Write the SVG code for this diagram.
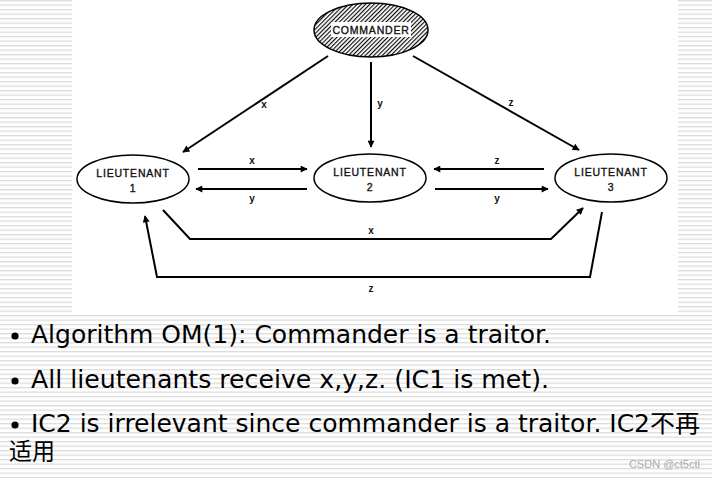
<svg xmlns="http://www.w3.org/2000/svg" width="712" height="478" viewBox="0 0 712 478">
<defs>
<pattern id="stripes" width="10" height="4.5" patternUnits="userSpaceOnUse">
<rect width="10" height="4.5" fill="#ffffff"/>
<rect y="0" width="10" height="1.3" fill="#dcdcdc"/>
</pattern>
<pattern id="hatch" width="3" height="3" patternUnits="userSpaceOnUse" patternTransform="rotate(45)">
<rect width="3" height="3" fill="#ffffff"/>
<line x1="0.6" y1="0" x2="0.6" y2="3" stroke="#000" stroke-width="1.1"/>
</pattern>
<marker id="ah" viewBox="0 0 10 10" refX="9" refY="5" markerWidth="10" markerHeight="7" markerUnits="userSpaceOnUse" orient="auto">
<path d="M0,0 L10,5 L0,10 z" fill="#000"/>
</marker>
<style>
.node{fill:#fff;stroke:#000;stroke-width:1.5}
.nt{font-family:"Liberation Sans",Arial,sans-serif;font-size:10.5px;text-anchor:middle;fill:#111;stroke:#111;stroke-width:0.35px;letter-spacing:0.8px}
.lbl{font-family:"Liberation Sans",Arial,sans-serif;font-size:10px;text-anchor:middle;fill:#111;font-weight:bold}
.c{fill:none;stroke:#000;stroke-width:2;marker-end:url(#ah)}
.body{font-family:"DejaVu Sans",Verdana,"Noto Sans CJK SC",sans-serif;font-size:24px;fill:#000}
</style>
</defs>
<rect width="712" height="478" fill="url(#stripes)"/>
<rect x="72" y="0" width="606" height="314" fill="#ffffff"/>

<g id="connectors">
<line class="c" x1="328" y1="56" x2="183" y2="152"/>
<text class="lbl" x="264" y="108">x</text>
<line class="c" x1="371" y1="62" x2="371" y2="147"/>
<text class="lbl" x="380" y="107">y</text>
<line class="c" x1="413" y1="56" x2="579" y2="150"/>
<text class="lbl" x="511" y="106">z</text>

<line class="c" x1="198" y1="169" x2="307" y2="169"/>
<text class="lbl" x="252" y="164">x</text>
<line class="c" x1="307" y1="189" x2="196" y2="189"/>
<text class="lbl" x="252" y="202">y</text>
<line class="c" x1="544" y1="169" x2="434" y2="169"/>
<text class="lbl" x="497" y="164">z</text>
<line class="c" x1="435" y1="189" x2="548" y2="189"/>
<text class="lbl" x="497" y="202">y</text>

<polyline class="c" points="163,210 190,239 551,239 583,208"/>
<text class="lbl" x="371" y="234">x</text>
<polyline class="c" points="602,212 590,277 157,277 145,216"/>
<text class="lbl" x="371" y="292">z</text>
</g>

<g id="commander">
<ellipse cx="371" cy="30" rx="57" ry="27" fill="url(#hatch)" stroke="#000" stroke-width="1.5"/>
<rect x="331" y="22" width="80" height="15" fill="#fff"/>
<text class="nt" x="371" y="34" style="font-size:10.5px">COMMANDER</text>
</g>
<g id="lieutenant1">
<ellipse class="node" cx="133" cy="179" rx="56" ry="24"/>
<text class="nt" x="133" y="177">LIEUTENANT</text>
<text class="nt" x="133" y="192">1</text>
</g>
<g id="lieutenant2">
<ellipse class="node" cx="370" cy="178" rx="56" ry="24"/>
<text class="nt" x="370" y="176">LIEUTENANT</text>
<text class="nt" x="370" y="191">2</text>
</g>
<g id="lieutenant3">
<ellipse class="node" cx="611" cy="178" rx="56" ry="24"/>
<text class="nt" x="611" y="176">LIEUTENANT</text>
<text class="nt" x="611" y="191">3</text>
</g>

<g id="text">
<circle cx="15" cy="336" r="3.6" fill="#000"/>
<text class="body" x="31" y="343" textLength="520" lengthAdjust="spacingAndGlyphs">Algorithm OM(1): Commander is a traitor.</text>
<circle cx="15" cy="381" r="3.6" fill="#000"/>
<text class="body" x="31" y="388" textLength="518" lengthAdjust="spacingAndGlyphs">All lieutenants receive x,y,z. (IC1 is met).</text>
<circle cx="15" cy="425" r="3.6" fill="#000"/>
<text class="body" x="31" y="432" textLength="669" lengthAdjust="spacingAndGlyphs">IC2 is irrelevant since commander is a traitor. IC2不再</text>
<text class="body" x="9" y="460" textLength="46" lengthAdjust="spacingAndGlyphs">适用</text>
<text x="700" y="468" text-anchor="end" font-family="Liberation Sans,Arial,sans-serif" font-size="11" fill="#aaaaaa">CSDN @ct5ctl</text>
</g>
</svg>
